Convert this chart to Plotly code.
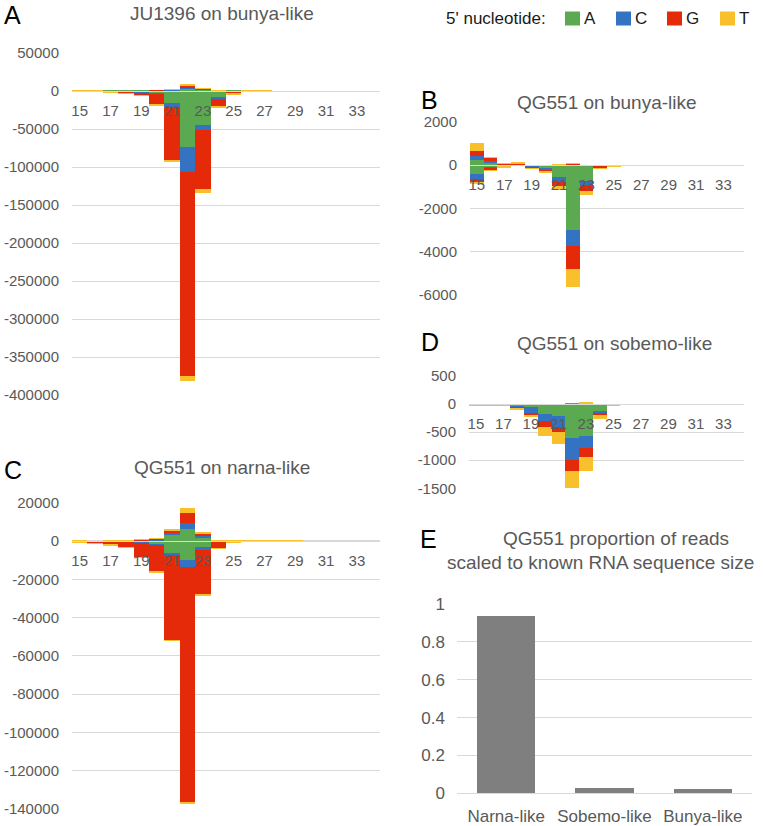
import numpy as np
import plotly.graph_objects as go

W, H = 763, 826
lengths = list(range(15, 35))
nts = ["A", "C", "G", "T"]
colors = {"A": "#5BAA52", "C": "#3473C2", "G": "#E52A0A", "T": "#F8C12C"}

def arr(d):
    return [d.get(n, 0) for n in lengths]

# ---- Panel A: JU1396 on bunya-like (sense positive, antisense negative) ----
A_sense_A = arr({15: 200, 16: 100, 17: 100, 18: 200, 19: 300, 20: 800, 21: 1200, 22: 3000, 23: 2000, 24: 400, 25: 100, 26: 100})
A_sense_C = arr({20: 100, 21: 400, 22: 1500, 23: 600})
A_sense_G = arr({20: 100, 21: 300, 22: 2500, 23: 300, 24: 200})
A_sense_T = arr({15: 200, 16: 100, 21: 200, 22: 1000, 23: 800, 24: 100, 26: 300, 27: 100})
A_anti_A = arr({15: 300, 16: 300, 17: 300, 18: 600, 19: 1500, 20: 3000, 21: 16000, 22: 74000, 23: 44500, 24: 9000, 25: 600, 26: 200})
A_anti_C = arr({17: 100, 18: 200, 19: 500, 20: 300, 21: 5000, 22: 32000, 23: 6500, 24: 1000, 25: 700})
A_anti_G = arr({16: 200, 17: 1200, 18: 2500, 19: 4000, 20: 14500, 21: 71000, 22: 269000, 23: 78000, 24: 10500, 25: 2500})
A_anti_T = arr({15: 400, 16: 300, 17: 200, 18: 300, 19: 300, 20: 1000, 21: 1800, 22: 6000, 23: 5200, 24: 1500, 25: 300, 26: 600})

# ---- Panel B: QG551 on bunya-like ----
B_sense_A = arr({15: 250, 16: 120, 17: 30, 18: 20, 21: 10})
B_sense_C = arr({15: 180, 16: 100, 17: 10})
B_sense_G = arr({15: 230, 16: 120, 17: 30, 18: 80, 22: 70})
B_sense_T = arr({15: 356, 16: 30, 17: 10, 18: 20, 21: 40, 22: 10})
B_anti_A = arr({15: 415, 16: 100, 17: 40, 18: 15, 19: 50, 20: 150, 21: 520, 22: 3000, 23: 720, 24: 50, 25: 10})
B_anti_C = arr({15: 230, 16: 20, 17: 10, 19: 30, 20: 50, 21: 230, 22: 725, 23: 190, 24: 20})
B_anti_G = arr({15: 110, 16: 100, 17: 20, 18: 10, 19: 60, 20: 100, 21: 200, 22: 1045, 23: 275, 24: 80, 25: 10})
B_anti_T = arr({15: 120, 16: 40, 17: 10, 19: 10, 20: 40, 21: 200, 22: 830, 23: 200, 24: 10, 25: 20})

# ---- Panel C: QG551 on narna-like ----
C_sense_A = arr({15: 100, 16: 50, 17: 100, 18: 150, 19: 300, 20: 500, 21: 3800, 22: 6400, 23: 2100, 24: 200, 25: 50, 26: 50, 27: 50, 28: 50, 29: 50})
C_sense_C = arr({18: 50, 19: 100, 20: 300, 21: 1000, 22: 3000, 23: 900, 24: 100})
C_sense_G = arr({17: 100, 18: 200, 19: 300, 20: 800, 21: 1000, 22: 5400, 23: 900, 24: 200})
C_sense_T = arr({15: 200, 16: 100, 17: 100, 18: 100, 19: 100, 20: 100, 21: 700, 22: 2600, 23: 700, 24: 100, 25: 300, 26: 300, 27: 300, 28: 300, 29: 300})
C_anti_A = arr({15: 200, 16: 300, 17: 300, 18: 400, 19: 500, 20: 1500, 21: 6400, 22: 9600, 23: 3000, 24: 300, 25: 100})
C_anti_C = arr({16: 100, 17: 100, 18: 200, 19: 300, 20: 500, 21: 1000, 22: 3800, 23: 1500, 24: 300, 25: 50})
C_anti_G = arr({15: 200, 16: 500, 17: 1500, 18: 2800, 19: 7500, 20: 14000, 21: 44300, 22: 123000, 23: 23500, 24: 3200, 25: 250})
C_anti_T = arr({15: 200, 16: 100, 17: 100, 18: 100, 19: 100, 20: 300, 21: 300, 22: 600, 23: 300, 24: 100, 25: 100})

# ---- Panel D: QG551 on sobemo-like ----
D_sense_A = arr({22: 10, 23: 10})
D_sense_C = arr({})
D_sense_G = arr({23: 5})
D_sense_T = arr({23: 30})
D_anti_A = arr({15: 10, 16: 5, 17: 5, 18: 40, 19: 55, 20: 180, 21: 220, 22: 607, 23: 560, 24: 130, 25: 10, 26: 5})
D_anti_C = arr({15: 10, 16: 2, 17: 2, 18: 20, 19: 105, 20: 130, 21: 190, 22: 387, 23: 225, 24: 42, 25: 10})
D_anti_G = arr({15: 3, 16: 8, 17: 8, 18: 20, 19: 40, 20: 90, 21: 85, 22: 190, 23: 149, 24: 28, 25: 8})
D_anti_T = arr({15: 2, 16: 2, 17: 2, 18: 10, 19: 20, 20: 165, 21: 220, 22: 316, 23: 266, 24: 62, 25: 2, 26: 10})

# ---- Panel E ----
E_categories = ["Narna-like", "Sobemo-like", "Bunya-like"]
E_values = [0.937, 0.028, 0.021]

x_ticks = list(range(15, 34, 2))

panels = {
    "A": dict(sense=[A_sense_A, A_sense_C, A_sense_G, A_sense_T], anti=[A_anti_A, A_anti_C, A_anti_G, A_anti_T],
              yr=(-400000, 50000), dt=50000, px=(72, 380), py=(53, 395), title="JU1396 on bunya-like"),
    "B": dict(sense=[B_sense_A, B_sense_C, B_sense_G, B_sense_T], anti=[B_anti_A, B_anti_C, B_anti_G, B_anti_T],
              yr=(-6000, 2000), dt=2000, px=(470, 744), py=(121.7, 295), title="QG551 on bunya-like"),
    "C": dict(sense=[C_sense_A, C_sense_C, C_sense_G, C_sense_T], anti=[C_anti_A, C_anti_C, C_anti_G, C_anti_T],
              yr=(-140000, 20000), dt=20000, px=(72, 380), py=(502.7, 809), title="QG551 on narna-like"),
    "D": dict(sense=[D_sense_A, D_sense_C, D_sense_G, D_sense_T], anti=[D_anti_A, D_anti_C, D_anti_G, D_anti_T],
              yr=(-1500, 500), dt=500, px=(469, 744), py=(376, 488.3), title="QG551 on sobemo-like"),
}

def fx(p):
    return p / W

def fy(p):
    return 1 - p / H

FONT = "Liberation Sans, Arial, sans-serif"
GRAY = "#595959"
GRID = "#D9D9D9"

fig = go.Figure()
layout = {}
annotations = []
shapes = []

for i, (key, p) in enumerate(panels.items(), start=1):
    xa = f"x{i}" if i > 1 else "x"
    ya = f"y{i}" if i > 1 else "y"
    for j, nt in enumerate(nts):
        fig.add_trace(go.Bar(x=lengths, y=p["sense"][j], xaxis=xa, yaxis=ya, name=nt,
                             marker=dict(color=colors[nt], line=dict(width=0)),
                             legendgroup=nt, showlegend=False))
    for j, nt in enumerate(nts):
        fig.add_trace(go.Bar(x=lengths, y=[-v for v in p["anti"][j]], xaxis=xa, yaxis=ya, name=nt,
                             marker=dict(color=colors[nt], line=dict(width=0)),
                             legendgroup=nt, showlegend=False))
    ymin, ymax = p["yr"]
    d0, d1 = fy(p["py"][1]), fy(p["py"][0])
    zero_pos = d0 + (0 - ymin) / (ymax - ymin) * (d1 - d0)
    yt = list(np.arange(ymin, ymax + p["dt"] / 2, p["dt"]))
    sfx = "" if i == 1 else str(i)
    layout["xaxis" + sfx] = dict(domain=[fx(p["px"][0]), fx(p["px"][1])], range=[14.5, 34.5],
                                 anchor="free", position=zero_pos, tickvals=x_ticks,
                                 showgrid=False, zeroline=False, showline=True, linecolor=GRID,
                                 linewidth=1, ticks="", ticklabelstandoff=6,
                                 tickfont=dict(size=15, color=GRAY, family=FONT))
    layout["yaxis" + sfx] = dict(domain=[d0, d1], range=[ymin, ymax], anchor=xa,
                                 tickvals=yt, ticktext=[f"{int(v)}" for v in yt],
                                 showgrid=True, gridcolor=GRID, zeroline=False, showline=False,
                                 ticks="", ticklabelstandoff=12,
                                 tickfont=dict(size=15, color=GRAY, family=FONT))

# Panel E
fig.add_trace(go.Bar(x=E_categories, y=E_values, xaxis="x5", yaxis="y5", width=0.59,
                     marker=dict(color="#7F7F7F", line=dict(width=0)), showlegend=False))
layout["xaxis5"] = dict(domain=[fx(457), fx(752)], anchor="y5", type="category", showgrid=False, zeroline=False,
                        showline=True, linecolor=GRID, ticks="", ticklabelstandoff=7,
                        tickfont=dict(size=17, color=GRAY, family=FONT))
layout["yaxis5"] = dict(domain=[fy(793.3), fy(604)], range=[0, 1], anchor="x5", dtick=0.2,
                        showgrid=True, gridcolor=GRID, zeroline=False, showline=False, ticks="",
                        ticklabelstandoff=11, tickfont=dict(size=17, color=GRAY, family=FONT))

def add_text(text, x, y, size, color, xanchor="center"):
    annotations.append(dict(text=text, x=fx(x), y=fy(y), xref="paper", yref="paper", showarrow=False,
                            xanchor=xanchor, yanchor="middle", font=dict(size=size, color=color, family=FONT)))

TS = 19
add_text(panels["A"]["title"], 222, 13, TS, GRAY)
add_text(panels["B"]["title"], 607, 103, TS, GRAY)
add_text(panels["C"]["title"], 222, 467, TS, GRAY)
add_text(panels["D"]["title"], 614, 343, TS, GRAY)
add_text("QG551 proportion of reads", 616, 538, TS, GRAY)
add_text("scaled to known RNA sequence size", 600, 562, TS, GRAY)
for letter, lx, ly in [("A", 2, 15), ("B", 419, 100), ("C", 2, 470), ("D", 419, 342), ("E", 418, 539)]:
    add_text(letter, lx, ly, 25, "#000000", xanchor="left")

# Legend (drawn as keys + labels)
LEG = "#1A1A1A"
add_text("5' nucleotide:", 444, 18, 17, LEG, xanchor="left")
legend_x = [565, 616, 667, 720]
for nt, lx in zip(nts, legend_x):
    shapes.append(dict(type="rect", xref="paper", yref="paper", x0=fx(lx), x1=fx(lx + 15),
                       y0=fy(25.5), y1=fy(11.5), fillcolor=colors[nt], line=dict(width=0)))
    add_text(nt, lx + 17, 18, 17, LEG, xanchor="left")

fig.update_layout(
    width=W, height=H, margin=dict(l=0, r=0, t=0, b=0, autoexpand=False),
    paper_bgcolor="white", plot_bgcolor="white",
    barmode="relative", bargap=0, font=dict(family=FONT),
    annotations=annotations, shapes=shapes, showlegend=False,
    **layout,
)

fig.write_html("out.html", config={"displayModeBar": False},
               post_script="document.body.style.margin='0';document.body.style.padding='0';")
